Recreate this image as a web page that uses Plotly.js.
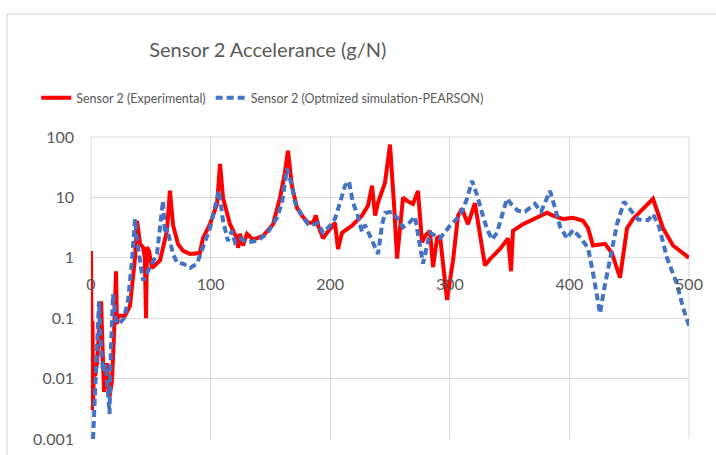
<!DOCTYPE html>
<html>
<head>
<meta charset="utf-8">
<script src="https://cdn.plot.ly/plotly-3.0.1.min.js"></script>
<style>html,body{margin:0;padding:0;background:#fff;}#chart{width:716px;height:455px;}</style>
</head>
<body>
<div id="chart"></div>
<script>
// Frequency (Hz) and accelerance (g/N)
const expFreq = [0,0.4,0.8,1.3,1.7,2.5,3.5,5,8.4,10.9,13.4,15.5,17.5,19.2,20.9,21.7,22.6,28.4,32.6,36.8,38.5,41,43.5,45,46,46.8,48.5,51,57.7,63.5,66,68.6,72.7,77,82.8,91,93.6,99.5,105.4,107.9,110.4,116.2,122,123,124.6,127,130.4,135.5,143.8,152.2,158,162,164.7,168,172.2,176.4,181.4,185.6,188,190,194,197.3,201.5,204,206.5,209.9,218.2,226.6,231.6,235,237.5,240,245.8,250,253.3,255.9,260.9,264.2,269.2,273.4,276.8,279.3,283.4,286,289.3,291.8,297.7,302.7,306.9,310.2,315.2,321,329.4,333.6,342,348.7,351.2,352.8,361.2,369.6,381.3,386.3,394.6,403,411.4,415.6,419.7,429.8,435.5,442.3,448.2,453.2,469.9,478.3,486.6,500];
const expAcc = [1.3,0.03,0.003,0.09,0.004,0.015,0.011,0.018,0.19,0.006,0.018,0.005,0.009,0.05,0.6,0.08,0.11,0.11,0.16,1.0,4.1,1.7,1.5,1.0,0.1,1.5,1.3,0.68,0.9,2.8,12.9,3.5,1.7,1.3,1.16,1.2,2.1,3.6,7.8,36,9.8,3.6,2.1,1.46,2.5,1.6,2.5,2.0,2.3,3.6,9.8,25,59,15.6,6.7,5,3.8,3.8,5,3.4,2.1,2.6,3.4,3.8,1.4,2.6,3.4,5,7.3,15.6,5,8.2,17.5,75,8,0.97,10,8.8,7.8,12.8,1.8,2.3,2.8,0.7,2.1,2.3,0.2,0.9,5,6.5,3.6,8,0.75,0.95,1.4,2.1,0.6,2.8,3.6,4.4,5.6,5,4.4,4.6,4.1,3.1,1.6,1.7,1.2,0.47,3.1,4.4,9.5,3.1,1.6,1.0];

const simFreq = [1.7,2.5,4.2,6.7,8.4,10,12.5,14.2,15.5,16.7,18.4,20.9,23.4,27.6,31,34.3,36.8,38.5,43.5,55.2,60.2,61.9,63.5,68.6,71.9,77,82.8,88.6,91.1,99.5,105.4,107,110.4,114.5,117.9,120.4,124.6,130.4,138.8,147.2,155.5,159.7,163.9,168,170.6,176.4,181.4,187.3,189.8,194,199.8,204,208.2,212.4,215.7,219,222.4,226.6,229.1,233.3,240,243.3,245.8,251.7,256.7,260.9,266.7,270.9,274.2,277.6,281,283.4,291.8,300.2,308.5,314.4,318.6,322.7,326.9,331.1,335.3,339.5,343.6,347.8,352,357,362.9,371.2,376.3,383.8,388,392.1,398,403,409.7,415.6,419.7,423,425.6,429,434,439.8,445.7,451.5,457.4,465.7,469.9,474.9,481.6,489.9,495,500];
const simAcc = [0.001,0.0026,0.009,0.19,0.032,0.013,0.017,0.007,0.0026,0.032,0.25,0.09,0.08,0.1,0.2,0.9,4.4,1.9,0.42,1.16,8.8,2.5,3.1,1.16,0.83,0.8,0.68,0.8,1.1,3.1,9.8,13,4.1,1.9,2.8,1.8,2.1,1.8,1.9,2.5,4.6,8.2,30,15.6,8.2,5,3.6,3.6,3.8,2.6,3.4,4.4,8.2,15.6,18.5,8.2,5.5,2.7,3.5,2.2,1.16,3.5,5.5,5.8,4.4,3.2,3.9,4.8,2.0,0.8,1.6,2.6,2.1,3.4,5,9.5,18.8,11,5.6,3,2.0,2.6,5,9.5,7.5,6,5.8,7.8,5.8,12.8,6.7,3.3,2.1,2.9,2.1,1.45,0.57,0.23,0.12,0.3,1.0,3.6,8.5,6,4.3,4.2,5.3,3.3,1.0,0.37,0.15,0.075];

const yTickVals = [0.001,0.01,0.1,1,10,100];
const yTickText = ['0.001','0.01','0.1','1','10','100'];
const xTickVals = [0,100,200,300,400,500];
const xTickText = ['0','100','200','300','400','500'];

const font = 'Lato, "Open Sans", sans-serif';
const grey = '#595959';

const traces = [
  {x: expFreq, y: expAcc, type: 'scatter', mode: 'lines', name: 'Sensor 2 (Experimental)',
   line: {color: '#FF0000', width: 4}},
  {x: simFreq, y: simAcc, type: 'scatter', mode: 'lines', name: 'Sensor 2 (Optmized simulation-PEARSON)',
   line: {color: '#4472C4', width: 4, dash: '7px,4px'}}
];

const layout = {
  width: 716, height: 455,
  margin: {l: 91, r: 27, t: 137, b: 16},
  paper_bgcolor: '#fff', plot_bgcolor: '#fff',
  font: {family: font, color: grey},
  title: {text: 'Sensor 2 Accelerance (g/N)', x: 0.374, xanchor: 'center', y: 0.89, yanchor: 'middle',
          font: {family: font, size: 20, color: grey}},
  showlegend: true,
  legend: {orientation: 'h', x: -0.0916, xanchor: 'left', y: 1.129, yanchor: 'middle',
           font: {family: font, size: 12.5, color: grey}, bgcolor: 'rgba(0,0,0,0)'},
  xaxis: {range: [0, 500], tickvals: xTickVals, ticktext: xTickText, showgrid: true, gridcolor: '#D9D9D9',
          zeroline: false, showline: false, anchor: 'free', position: 0.6, ticks: '',
          ticklabelstandoff: 15, tickfont: {family: font, size: 16, color: grey}},
  yaxis: {type: 'log', range: [-3, 2], tickvals: yTickVals, ticktext: yTickText, showgrid: true,
          gridcolor: '#D9D9D9', zeroline: false, showline: false, ticks: '',
          ticklabelstandoff: 16, tickfont: {family: font, size: 16, color: grey}},
  shapes: [
    {type: 'rect', xref: 'paper', yref: 'paper', x0: -0.1405, x1: 1.1, y0: -0.2, y1: 1.407,
     line: {color: '#D9D9D9', width: 1.3}, fillcolor: 'rgba(0,0,0,0)', layer: 'below'},
    {type: 'line', xref: 'paper', yref: 'paper', x0: 0, x1: 0, y0: 0, y1: 1, line: {color: '#D9D9D9', width: 1}, layer: 'below'},
    {type: 'line', xref: 'paper', yref: 'paper', x0: 1, x1: 1, y0: 0, y1: 1, line: {color: '#D9D9D9', width: 1}, layer: 'below'},
    {type: 'line', xref: 'paper', yref: 'paper', x0: 0, x1: 1, y0: 1, y1: 1, line: {color: '#D9D9D9', width: 1}, layer: 'below'}
  ]
};

Plotly.newPlot('chart', traces, layout, {displayModeBar: false, staticPlot: true});
</script>
</body>
</html>
